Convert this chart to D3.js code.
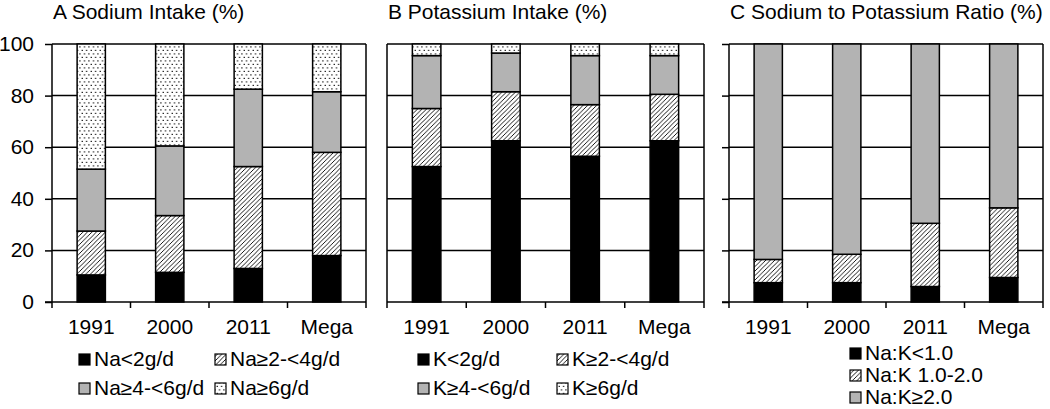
<!DOCTYPE html>
<html>
<head>
<meta charset="utf-8">
<script src="https://cdn.jsdelivr.net/npm/d3@7"></script>
<style>
  html, body { margin: 0; padding: 0; background: #fff; }
  svg { display: block; }
  text { font-family: "Liberation Sans", Arial, sans-serif; fill: #000; }
</style>
</head>
<body>
<svg id="chart" width="1050" height="409"></svg>
<script>
// ---------------- DATA ----------------
const categories = ["1991", "2000", "2011", "Mega"];
const yTicks = [0, 20, 40, 60, 80, 100];

const titleA = "A Sodium Intake (%)";
const titleB = "B Potassium Intake (%)";
const titleC = "C Sodium to Potassium Ratio (%)";

const sodiumSeries = ["Na<2g/d", "Na≥2-<4g/d", "Na≥4-<6g/d", "Na≥6g/d"];
// one array per series, values per category (1991, 2000, 2011, Mega)
const sodiumLt2 = [10.5, 11.5, 13, 18];
const sodium2to4 = [17, 22, 39.5, 40];
const sodium4to6 = [24, 27, 30, 23.5];
const sodiumGe6 = [48.5, 39.5, 17.5, 18.5];

const potassiumSeries = ["K<2g/d", "K≥2-<4g/d", "K≥4-<6g/d", "K≥6g/d"];
const potassiumLt2 = [52.5, 62.5, 56.5, 62.5];
const potassium2to4 = [22.5, 19, 20, 18];
const potassium4to6 = [20.5, 15, 19, 15];
const potassiumGe6 = [4.5, 3.5, 4.5, 4.5];

const ratioSeries = ["Na:K<1.0", "Na:K 1.0-2.0", "Na:K≥2.0"];
const ratioLt1 = [7.5, 7.5, 6, 9.5];
const ratio1to2 = [9, 11, 24.5, 27];
const ratioGe2 = [83.5, 81.5, 69.5, 63.5];

// ---------------- LAYOUT ----------------
const svg = d3.select("#chart");
const FS = 20, SX = 1.05;
const fills = ["#000", "url(#hatch)", "#b3b3b3", "url(#dots)"];

const defs = svg.append("defs");
const hatch = defs.append("pattern").attr("id", "hatch")
  .attr("patternUnits", "userSpaceOnUse").attr("width", 4.5).attr("height", 4.5);
hatch.append("rect").attr("width", 4.5).attr("height", 4.5).attr("fill", "#fff");
hatch.append("path").attr("d", "M-1,1 L1,-1 M0,4.5 L4.5,0 M3.5,5.5 L5.5,3.5")
  .attr("stroke", "#000").attr("stroke-width", 0.9);
const dots = defs.append("pattern").attr("id", "dots")
  .attr("patternUnits", "userSpaceOnUse").attr("width", 4.5).attr("height", 7);
dots.append("rect").attr("width", 4.5).attr("height", 7).attr("fill", "#fff");
dots.append("rect").attr("x", 0.6).attr("y", 0.8).attr("width", 1.2).attr("height", 1.2).attr("fill", "#000");
dots.append("rect").attr("x", 2.85).attr("y", 4.3).attr("width", 1.2).attr("height", 1.2).attr("fill", "#000");

function txt(g, x, y, s, anchor) {
  return g.append("text")
    .attr("transform", `translate(${x},${y}) scale(${SX},1)`)
    .attr("text-anchor", anchor || "start")
    .attr("font-size", FS)
    .text(s);
}

const y = d3.scaleLinear().domain([0, 100]).range([302, 44]);

const panels = [
  { title: titleA, x0: 52, x1: 366, series: sodiumSeries,
    values: [sodiumLt2, sodium2to4, sodium4to6, sodiumGe6],
    labels: true, leftTicks: true, legendCols: [79, 215], legendRows: [366, 395], legendLayout: "grid" },
  { title: titleB, x0: 387, x1: 704, series: potassiumSeries,
    values: [potassiumLt2, potassium2to4, potassium4to6, potassiumGe6],
    labels: false, leftTicks: false, legendCols: [418, 557], legendRows: [366, 395], legendLayout: "grid" },
  { title: titleC, x0: 729, x1: 1043, series: ratioSeries,
    values: [ratioLt1, ratio1to2, ratioGe2],
    labels: false, leftTicks: true, legendCols: [850], legendRows: [360, 382, 404], legendLayout: "column" }
];

panels.forEach(p => {
  const g = svg.append("g");
  const x = d3.scaleBand().domain(categories).range([p.x0, p.x1])
    .paddingInner(0.64).paddingOuter(0.32);

  // title
  txt(g, p.x0 + 1, 19, p.title);

  // gridlines
  g.selectAll(".grid").data(yTicks.filter(d => d > 0)).join("line")
    .attr("x1", p.x0).attr("x2", p.x1)
    .attr("y1", d => y(d)).attr("y2", d => y(d))
    .attr("stroke", "#000").attr("stroke-width", 1.5);

  // y axis ticks
  const ax = d3.axisLeft(y).tickValues(yTicks).tickSize(p.leftTicks ? 7 : 0).tickFormat(() => "");
  const axg = g.append("g").attr("transform", `translate(${p.x0},0)`).call(ax);
  axg.select(".domain").remove();
  axg.selectAll(".tick line").attr("stroke", "#000").attr("stroke-width", 1.5);
  if (p.labels) {
    yTicks.forEach(t => txt(g, p.x0 - 18, y(t) + 7, d3.format("d")(t), "end"));
  }

  // stacked bars
  const stacked = categories.map((c, i) => {
    let acc = 0;
    return p.values.map((arr, si) => {
      const s = { cat: c, si, y0: acc, y1: acc + arr[i] };
      acc += arr[i];
      return s;
    });
  }).flat();
  g.selectAll(".bar").data(stacked).join("rect")
    .attr("x", d => x(d.cat)).attr("width", x.bandwidth())
    .attr("y", d => y(d.y1)).attr("height", d => y(d.y0) - y(d.y1))
    .attr("fill", d => fills[d.si])
    .attr("stroke", "#000").attr("stroke-width", 1.5);

  // frame: left and right borders
  g.append("line").attr("x1", p.x0).attr("x2", p.x0).attr("y1", y(100)).attr("y2", y(0))
    .attr("stroke", "#000").attr("stroke-width", 1.5);
  g.append("line").attr("x1", p.x1).attr("x2", p.x1).attr("y1", y(100)).attr("y2", y(0))
    .attr("stroke", "#000").attr("stroke-width", 1.5);

  // x axis: baseline with ticks at category boundaries
  const xb = d3.scaleLinear().domain([0, categories.length]).range([p.x0, p.x1]);
  g.append("line").attr("x1", p.x0 - (p.leftTicks ? 7 : 0)).attr("x2", p.x1)
    .attr("y1", y(0)).attr("y2", y(0)).attr("stroke", "#000").attr("stroke-width", 1.5);
  g.selectAll(".xt").data(d3.range(categories.length + 1)).join("line")
    .attr("x1", d => xb(d)).attr("x2", d => xb(d))
    .attr("y1", y(0)).attr("y2", y(0) + 6)
    .attr("stroke", "#000").attr("stroke-width", 1.5);
  categories.forEach(c => {
    txt(g, x(c) + x.bandwidth() / 2, 334, c, "middle");
  });

  // legend
  p.series.forEach((s, i) => {
    let lx, ly;
    if (p.legendLayout === "grid") {
      lx = p.legendCols[i % 2]; ly = p.legendRows[Math.floor(i / 2)];
    } else {
      lx = p.legendCols[0]; ly = p.legendRows[i];
    }
    g.append("rect").attr("x", lx).attr("y", ly - 12).attr("width", 11).attr("height", 11)
      .attr("fill", fills[i]).attr("stroke", "#000").attr("stroke-width", 1.2);
    txt(g, lx + 15, ly, s);
  });
});
</script>
</body>
</html>
